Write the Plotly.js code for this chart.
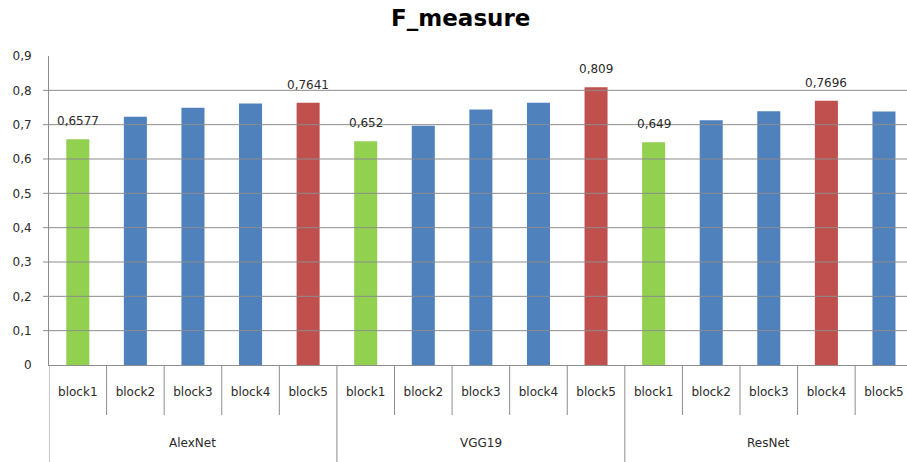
<!DOCTYPE html>
<html>
<head>
<meta charset="utf-8">
<script src="https://cdn.plot.ly/plotly-3.0.1.min.js"></script>
<style>
  html, body { margin: 0; padding: 0; background: #ffffff; }
  #chart { width: 907px; height: 462px; }
</style>
</head>
<body>
<div id="chart"></div>
<script>
// F-measure per network and per block
const GROUPS = ['AlexNet', 'VGG19', 'ResNet'];
const BLOCKS = ['block1', 'block2', 'block3', 'block4', 'block5'];
const ALEXNET = [0.6577, 0.723, 0.749, 0.762, 0.7641];
const VGG19 = [0.652, 0.697, 0.744, 0.764, 0.809];
const RESNET = [0.649, 0.713, 0.739, 0.7696, 0.738];
const Y_TICKS = [0, 0.1, 0.2, 0.3, 0.4, 0.5, 0.6, 0.7, 0.8, 0.9];

const SERIES = [ALEXNET, VGG19, RESNET];

const COLOR_MIN = '#92D050';
const COLOR_MAX = '#C0504D';
const COLOR_MID = '#4F81BD';
const GRID = '#8c8c8c';
const TEXT = '#2b2b2b';
const FONT = 'DejaVu Sans';

const fmt = v => String(v).replace('.', ',');

const xs = [], ys = [], colors = [], tickText = [];
const labels = [];
SERIES.forEach((vals, g) => {
  const lo = Math.min(...vals), hi = Math.max(...vals);
  vals.forEach((v, b) => {
    const idx = g * BLOCKS.length + b;
    xs.push(idx);
    ys.push(v);
    tickText.push(BLOCKS[b]);
    let c = COLOR_MID;
    if (v === lo) c = COLOR_MIN;
    if (v === hi) c = COLOR_MAX;
    colors.push(c);
    if (v === lo || v === hi) labels.push({ x: idx, y: v });
  });
});

const nCat = xs.length;
const yMax = Y_TICKS[Y_TICKS.length - 1];

// horizontal grid lines (the top of the scale is left open)
const shapes = [];
Y_TICKS.filter(v => v > 0 && v < yMax).forEach(v => {
  shapes.push({ type: 'line', xref: 'paper', yref: 'y', x0: -0.007, x1: 1, y0: v, y1: v,
    line: { color: GRID, width: 1 } });
});
// short separators between blocks, long ones between networks
for (let i = 0; i <= nCat; i++) {
  const pos = i - 0.5;
  const isGroupEdge = i % BLOCKS.length === 0;
  shapes.push({ type: 'line', xref: 'x', yref: 'paper', x0: pos, x1: pos,
    y0: 0, y1: isGroupEdge ? -0.32 : -0.162,
    line: { color: GRID, width: 1 } });
}

const annotations = labels.map(p => ({
  x: p.x, y: p.y, xref: 'x', yref: 'y', text: fmt(p.y), showarrow: false,
  yanchor: 'middle', yshift: 18, font: { family: FONT, size: 12, color: TEXT }
}));
GROUPS.forEach((name, g) => {
  annotations.push({
    x: g * BLOCKS.length + (BLOCKS.length - 1) / 2, y: -0.252, xref: 'x', yref: 'paper',
    text: name, showarrow: false, yanchor: 'middle',
    font: { family: FONT, size: 12, color: TEXT }
  });
});

const trace = {
  type: 'bar', x: xs, y: ys,
  marker: { color: colors, line: { width: 0 } },
  hoverinfo: 'x+y'
};

const layout = {
  width: 907, height: 462,
  margin: { l: 49, r: 0, t: 56, b: 97 },
  paper_bgcolor: '#ffffff', plot_bgcolor: '#ffffff',
  separators: ', ',
  showlegend: false,
  bargap: 0.6,
  title: {
    text: '<b>F_measure</b>', xref: 'container', x: 0.508, yref: 'container', y: 0.962,
    xanchor: 'center', yanchor: 'middle',
    font: { family: FONT, size: 23, color: '#000000' }
  },
  xaxis: {
    type: 'linear', range: [-0.5, nCat - 0.6],
    tickmode: 'array', tickvals: xs, ticktext: tickText,
    ticks: '', showgrid: false, zeroline: false,
    showline: true, linecolor: GRID, linewidth: 1,
    ticklabelstandoff: 16,
    tickfont: { family: FONT, size: 12, color: TEXT }
  },
  yaxis: {
    range: [0, yMax], tickmode: 'array', tickvals: Y_TICKS,
    ticks: '', showgrid: false, zeroline: false,
    showline: true, linecolor: GRID, linewidth: 1,
    ticklabelstandoff: 14,
    tickfont: { family: FONT, size: 12, color: TEXT }
  },
  shapes: shapes,
  annotations: annotations
};

Plotly.newPlot('chart', [trace], layout, { displayModeBar: false, staticPlot: true });
</script>
</body>
</html>
